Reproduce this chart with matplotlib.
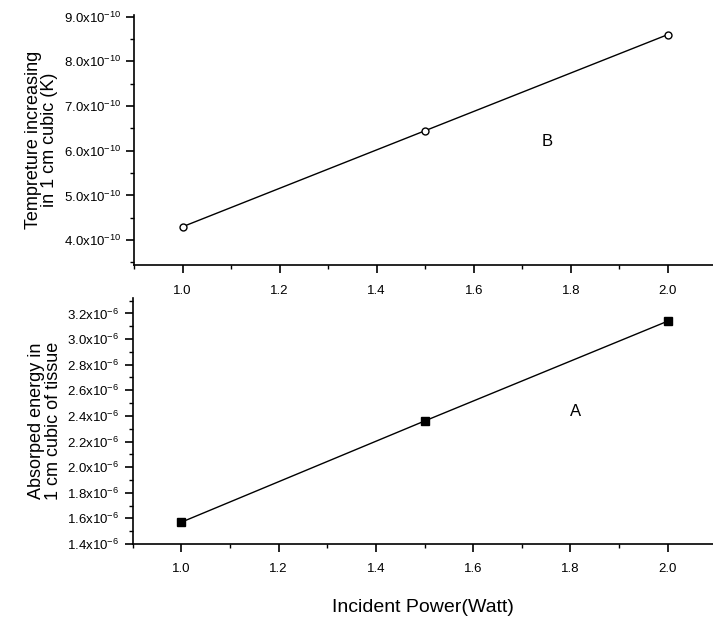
import numpy as np
import matplotlib.pyplot as plt
from matplotlib.ticker import MultipleLocator, FuncFormatter

plt.rcParams['font.family'] = ['Liberation Sans', 'DejaVu Sans']
plt.rcParams['mathtext.fontset'] = 'custom'
plt.rcParams['mathtext.rm'] = 'Liberation Sans'

power = [1.0, 1.5, 2.0]
temp_rise = [4.3, 6.45, 8.6]          # x 1e-10 K
absorbed = [1.57, 2.36, 3.14]         # x 1e-6

fig = plt.figure(figsize=(7.13, 6.21), dpi=100)
ax_top = fig.add_axes([0.188, 0.573, 0.812, 0.403])
ax_bot = fig.add_axes([0.186, 0.124, 0.814, 0.396])


def sci_fmt(exp):
    return FuncFormatter(lambda v, p: r'$\mathrm{%.1fx10}^{%d}$' % (v, exp))


def style(ax):
    for s in ['top', 'right']:
        ax.spines[s].set_visible(False)
    ax.spines['left'].set_linewidth(1.2)
    ax.spines['bottom'].set_linewidth(1.2)
    ax.tick_params(which='major', direction='out', length=6, width=1.2,
                   labelsize=9.5, color='black')
    ax.tick_params(axis='x', which='major', pad=8)
    ax.tick_params(which='minor', direction='out', length=3, width=1.0)
    ax.xaxis.set_major_locator(MultipleLocator(0.2))
    ax.xaxis.set_minor_locator(MultipleLocator(0.1))
    ax.set_xlim(0.9, 2.093)
    ax.xaxis.set_major_formatter(FuncFormatter(lambda v, p: '%.1f' % v))


ax_top.plot(power, temp_rise, color='black', lw=1.0, marker='o', ms=5,
            mfc='white', mec='black', mew=1.0)
style(ax_top)
ax_top.set_ylim(3.44, 9.04)
ax_top.yaxis.set_major_locator(MultipleLocator(1.0))
ax_top.yaxis.set_minor_locator(MultipleLocator(0.5))
ax_top.yaxis.set_major_formatter(sci_fmt(-10))
ax_top.set_ylabel('Tempreture increasing\nin 1 cm cubic (K)', fontsize=13,
                  linespacing=0.95, labelpad=4)
ax_top.text(1.74, 6.1, 'B', fontsize=12)

ax_bot.plot(power, absorbed, color='black', lw=1.0, marker='s', ms=5.5,
            mfc='black', mec='black')
style(ax_bot)
ax_bot.set_ylim(1.4, 3.32)
ax_bot.yaxis.set_major_locator(MultipleLocator(0.2))
ax_bot.yaxis.set_minor_locator(MultipleLocator(0.1))
ax_bot.yaxis.set_major_formatter(sci_fmt(-6))
ax_bot.set_ylabel('Absorped energy in\n1 cm cubic of tissue', fontsize=13,
                  linespacing=0.95, labelpad=4)
ax_bot.text(1.80, 2.40, 'A', fontsize=12)
ax_bot.set_xlabel('Incident Power(Watt)', fontsize=14, labelpad=17)

fig.savefig('out.png', dpi=100)
